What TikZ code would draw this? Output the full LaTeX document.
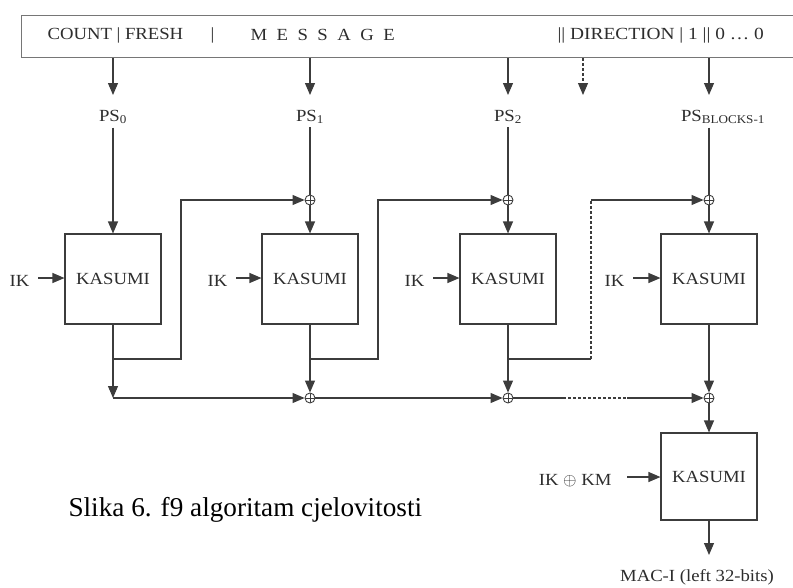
\documentclass[tikz,border=0pt]{standalone}
\usepackage{fontspec}
\setmainfont{Liberation Serif}
\newfontfamily\dg[FakeStretch=1.1]{Liberation Serif}
\newfontfamily\dgw[FakeStretch=1.14]{Liberation Serif}
\usetikzlibrary{arrows.meta}
\definecolor{ln}{RGB}{60,60,60}
\definecolor{tx}{RGB}{45,45,45}
\begin{document}
\begin{tikzpicture}[x=1pt,y=-1pt,
  line width=1.1pt, draw=ln,
  arr/.style={-{Triangle[length=12pt,width=10pt]}},
  lbl/.style={text=tx, font=\dg\fontsize{17}{20}\selectfont, inner sep=0pt},
  kbox/.style={draw=ln, minimum width=96pt, minimum height=90pt, inner sep=0pt, text=tx, font=\dg\fontsize{17}{20}\selectfont},
  xor/.style={circle, draw=ln, line width=0.9pt, minimum size=10pt, inner sep=0pt,
    path picture={\draw[line width=0.8pt] (path picture bounding box.north) -- (path picture bounding box.south)
      (path picture bounding box.west) -- (path picture bounding box.east);}},
  dsh/.style={dash pattern=on 3pt off 2pt}
]
\useasboundingbox (0,0) rectangle (793,587);

% top message box
\node[draw=ln!70, line width=1.2pt, minimum width=790pt, minimum height=42pt, inner sep=0pt, anchor=north west] (msg) at (21,15) {};
\node[lbl, anchor=west] (tcount) at (47,35) {COUNT | FRESH};
\node[lbl, anchor=west] (tbar) at (210,35) {|};
\node[lbl, anchor=west] (tmsg) at (250,35) {M\hspace{9.5pt}E\hspace{9.5pt}S\hspace{9.5pt}S\hspace{9.5pt}A\hspace{9.5pt}G\hspace{9.5pt}E};
\node[lbl, anchor=west, font=\dgw\fontsize{17}{20}\selectfont] (tdir) at (557,35) {|| DIRECTION | 1 || 0 … 0};

% PS labels
\node[lbl] (ps0) at (113,117) {PS\textsubscript{0}};
\node[lbl] (ps1) at (310,117) {PS\textsubscript{1}};
\node[lbl] (ps2) at (508,117) {PS\textsubscript{2}};
\node[lbl] (ps3) at (723,117) {PS\textsubscript{BLOCKS-1}};

\coordinate (a0) at (113,95);
\coordinate (a1) at (310,95);
\coordinate (a2) at (508,95);
\coordinate (ad) at (583,95);
\coordinate (a3) at (709,95);
\draw[arr] (msg.south -| a0) -- (a0);
\draw[arr] (msg.south -| a1) -- (a1);
\draw[arr] (msg.south -| a2) -- (a2);
\draw[arr, dsh] (msg.south -| ad) -- (ad);
\draw[arr] (msg.south -| a3) -- (a3);

% KASUMI boxes
\node[kbox] (k1) at (113,279) {\raisebox{-4pt}{KASUMI}};
\node[kbox] (k2) at (310,279) {\raisebox{-4pt}{KASUMI}};
\node[kbox] (k3) at (508,279) {\raisebox{-4pt}{KASUMI}};
\node[kbox] (k4) at (709,279) {\raisebox{-4pt}{KASUMI}};
\node[kbox, minimum height=87pt] (k5) at (709,476.5) {\raisebox{-4pt}{KASUMI}};

% XORs
\node[xor] (x1) at (310,200) {};
\node[xor] (x2) at (508,200) {};
\node[xor] (x3) at (709,200) {};
\node[xor] (y1) at (310,398) {};
\node[xor] (y2) at (508,398) {};
\node[xor] (y3) at (709,398) {};

% IK inputs
\node[lbl, anchor=east] (ik1) at (30,281) {IK};
\node[lbl, anchor=east] (ik2) at (228,281) {IK};
\node[lbl, anchor=east] (ik3) at (425,281) {IK};
\node[lbl, anchor=east] (ik4) at (625,281) {IK};
\node[lbl, anchor=east] (ik5) at (612,481) {IK $\oplus$ KM};
\draw[arr] ([xshift=8pt,yshift=3pt]ik1.east) -- ([yshift=3pt]k1.west |- ik1.east);
\draw[arr] ([xshift=8pt,yshift=3pt]ik2.east) -- ([yshift=3pt]k2.west |- ik2.east);
\draw[arr] ([xshift=8pt,yshift=3pt]ik3.east) -- ([yshift=3pt]k3.west |- ik3.east);
\draw[arr] ([xshift=8pt,yshift=3pt]ik4.east) -- ([yshift=3pt]k4.west |- ik4.east);
\draw[arr] ([xshift=15pt,yshift=4pt]ik5.east) -- ([yshift=4pt]k5.west |- ik5.east);

% PS to boxes / xors
\draw[arr] ([yshift=-3pt]ps0.south) -- (k1.north);
\draw ([yshift=-3pt]ps1.south) -- (x1.north);
\draw ([yshift=-3pt]ps2.south) -- (x2.north);
\draw ([yshift=-3pt]ps3.south -| x3) -- (x3.north);
\draw[arr] (x1.south) -- (k2.north);
\draw[arr] (x2.south) -- (k3.north);
\draw[arr] (x3.south) -- (k4.north);

% feedback branches
\coordinate (b0) at (113,398);
\coordinate (s1) at (113,359);
\coordinate (u1) at (181,359);
\coordinate (s2) at (310,359);
\coordinate (u2) at (378,359);
\coordinate (s3) at (508,359);
\coordinate (u3) at (591,359);
\coordinate (v3) at (591,200);
\draw[arr] (k1.south) -- (b0);
\draw[arr] (s1) -- (u1) |- (x1.west);
\draw[arr] (s2) -- (u2) |- (x2.west);
\draw (s3) -- (u3);
\draw[dsh] (u3) -- (v3);
\draw[arr] (v3) -- (x3.west);

% bottom chain
\draw[arr] (b0) -- (y1.west);
\draw[arr] (k2.south) -- (y1.north);
\draw[arr] (k3.south) -- (y2.north);
\draw[arr] (k4.south) -- (y3.north);
\draw[arr] (y1.east) -- (y2.west);
\coordinate (d1) at (563,398);
\coordinate (d2) at (627,398);
\draw (y2.east) -- (d1);
\draw[dsh] (d1) -- (d2);
\draw[arr] (d2) -- (y3.west);

% final KASUMI
\draw[arr] (y3.south) -- (k5.north);
\coordinate (mo) at (709,555);
\draw[arr] (k5.south) -- (mo);
\node[lbl] (mac) at (697,577) {MAC-I (left 32-bits)};

% caption
\node[anchor=base west, inner sep=0pt, font=\fontsize{27.2}{31}\selectfont] (cap) at (68,516) {Slika 6. f9 algoritam cjelovitosti};
\end{tikzpicture}
\end{document}
